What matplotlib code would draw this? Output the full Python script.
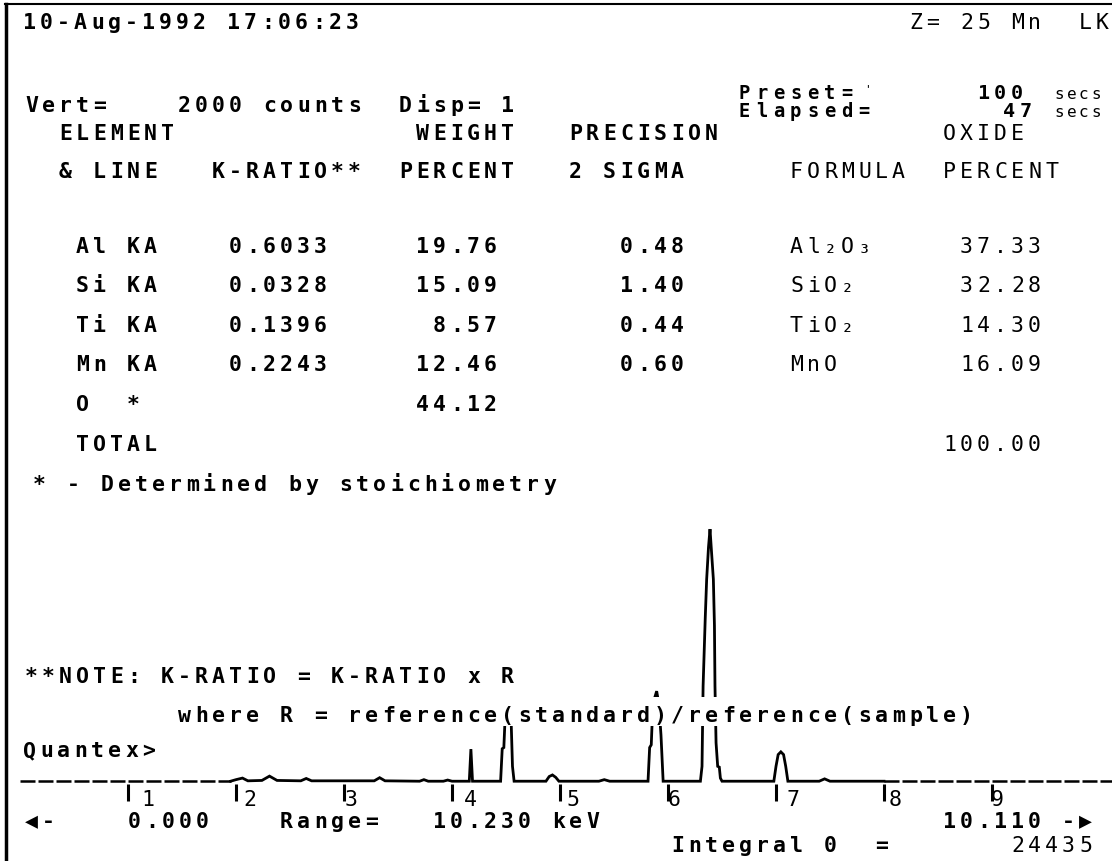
"""
Pantalla del analizador EDS (Quantex, 10-Aug-1992): tabla de cuantificación
arriba y el espectro de rayos X abajo, todo con look de terminal.
"""
import numpy as np
import matplotlib
matplotlib.use('Agg')
import matplotlib.pyplot as plt
from matplotlib.patches import Rectangle

# ─── Datos ───────────────────────────────────────────────────────────────────

energy_kev = np.array([
    0.00, 1.95, 2.00, 2.06, 2.11, 2.24, 2.31, 2.38, 2.60, 2.65, 2.70,
    3.28, 3.33, 3.38, 3.70, 3.74, 3.78, 3.92, 3.96, 4.00,
    4.16, 4.175, 4.19,
    4.45, 4.465, 4.48, 4.495, 4.52, 4.545, 4.56, 4.575,
    4.87, 4.90, 4.93, 4.96, 4.99, 5.36, 5.41, 5.46,
    5.815, 5.83, 5.845, 5.86, 5.895, 5.915, 5.935, 5.955,
    6.30, 6.315, 6.325, 6.345, 6.358, 6.375, 6.389, 6.40, 6.42, 6.43,
    6.435, 6.445, 6.46, 6.475, 6.485, 6.50,
    6.98, 7.00, 7.02, 7.045, 7.07, 7.09, 7.11, 7.40, 7.45, 7.50,
    8.00, 10.11,
])
counts = np.array([
    2, 2, 6, 10, 3, 4, 15, 4, 3, 9, 3,
    3, 11, 3, 2, 6, 2, 2, 5, 2,
    2, 84, 2,
    2, 85, 88, 185, 195, 180, 40, 2,
    2, 14, 18, 12, 2, 2, 6, 2,
    2, 88, 95, 200, 232, 200, 120, 2,
    2, 40, 245, 420, 518, 600, 646, 600, 518, 400,
    245, 100, 40, 38, 10, 2,
    2, 40, 70, 77, 70, 40, 2, 2, 8, 2,
    2, 2,
])
tick_kev = [1, 2, 3, 4, 5, 6, 7, 8, 9]

# Tabla de cuantificación (tal cual aparece en pantalla).
elements = ['Al KA', 'Si KA', 'Ti KA', 'Mn KA', 'O  *']
k_ratio = ['0.6033', '0.0328', '0.1396', '0.2243', '']
weight_pct = ['19.76', '15.09', ' 8.57', '12.46', '44.12']
precision = ['0.48', '1.40', '0.44', '0.60', '']
oxide_formula = ['Al₂O₃', 'SiO₂', 'TiO₂', 'MnO', '']
oxide_pct = ['37.33', '32.28', '14.30', '16.09', '']
total_pct = '100.00'

# ─── Layout de la pantalla (en píxeles) ──────────────────────────────────────

W, H = 1112, 862
PITCH = 17            # ancho de celda de carácter
X0 = 25               # columna 0
FS = 15.5
MONO = ['DejaVu Sans Mono', 'DejaVu Sans']

PX0, PX_KEV = 20, 108     # 0 keV en x=20, 108 px por keV
BASE_Y = 783              # línea base del espectro
FULL_SCALE = 2000         # "Vert= 2000 counts" llega hasta el borde de arriba
K = FULL_SCALE / BASE_Y   # cuentas por píxel


def col(c):
    return X0 + c * PITCH


fig = plt.figure(figsize=(W / 100, H / 100), dpi=100)
fig.patch.set_facecolor('white')

# Eje del espectro: x en keV, y en cuentas, alineado con la grilla de píxeles.
ax = fig.add_axes([0, 0, 1, 1])
ax.set_xlim(-PX0 / PX_KEV, (W - PX0) / PX_KEV)
ax.set_ylim(-(H - BASE_Y) * K, FULL_SCALE)
ax.axis('off')

# Eje de texto encima, en píxeles con origen arriba a la izquierda.
tx = fig.add_axes([0, 0, 1, 1], zorder=3)
tx.set_xlim(0, W)
tx.set_ylim(H, 0)
tx.patch.set_alpha(0)
tx.axis('off')


def crt(x, y, s, size=FS, weight='bold', pitch=PITCH):
    """Texto de terminal: cada carácter en su celda fija."""
    for i, ch in enumerate(s):
        if ch.strip():
            tx.text(x + i * pitch, y, ch, fontsize=size, fontweight=weight,
                    family=MONO, ha='left', va='baseline', color='black')


# ─── Espectro ────────────────────────────────────────────────────────────────

lo = energy_kev <= 1.95
mid = (energy_kev >= 1.95) & (energy_kev <= 8.0)
hi = energy_kev >= 8.0
ax.plot(energy_kev[mid], counts[mid], color='black', lw=2.0, solid_joinstyle='miter')
for m in (lo, hi):
    ax.plot(energy_kev[m], counts[m], color='black', lw=1.8, dashes=(6, 1.2))

# Marcas de keV debajo de la base, con su número en la celda siguiente.
ax.vlines(tick_kev, -19 * K, -2 * K, color='black', lw=2.2)
for e in tick_kev:
    px = PX0 + PX_KEV * e
    cell = np.ceil((px - X0) / PITCH)
    crt(col(cell) - 3, 806, str(e), weight='normal')

# ─── Marco ───────────────────────────────────────────────────────────────────

tx.plot([5, W], [5, 5], color='black', lw=1.5)
tx.plot([6, 6], [5, H], color='black', lw=2.5)

# ─── Cabecera ────────────────────────────────────────────────────────────────

crt(col(0) - 2, 29, '10-Aug-1992 17:06:23')
crt(col(52), 29, 'Z= 25 Mn  LK', weight='normal')
crt(col(42), 99, "Preset=", size=13.5)
crt(864, 92, "'", size=8, weight='normal')
crt(col(56), 99, '100', size=14.5)
crt(1054, 99, 'secs', size=11.5, weight='normal', pitch=12.5)
crt(col(0), 112, 'Vert=    2000 counts  Disp= 1')
crt(col(42), 117, 'Elapsed=', size=13.5)
crt(1003, 117, '47', size=14.5)
crt(1054, 117, 'secs', size=11.5, weight='normal', pitch=12.5)

crt(col(2), 140, 'ELEMENT')
crt(col(23), 140, 'WEIGHT')
crt(col(32), 140, 'PRECISION')
crt(col(54), 140, 'OXIDE', weight='normal')
crt(col(2), 178, '& LINE')
crt(col(11), 178, 'K-RATIO**')
crt(col(22), 178, 'PERCENT')
crt(col(32), 178, '2 SIGMA')
crt(col(45), 178, 'FORMULA', weight='normal')
crt(col(54), 178, 'PERCENT', weight='normal')

# ─── Filas de la tabla ───────────────────────────────────────────────────────

row_y = [253, 292, 332, 371, 411]
for i, y in enumerate(row_y):
    crt(col(3), y, elements[i])
    crt(col(12), y, k_ratio[i])
    crt(col(23), y, weight_pct[i])
    crt(col(35), y, precision[i])
    crt(col(45), y, oxide_formula[i], weight='normal')
    crt(col(55), y, oxide_pct[i], weight='normal')
crt(col(3), 451, 'TOTAL')
crt(col(54), 451, total_pct, weight='normal')
crt(33, 491, '* - Determined by stoichiometry')

# ─── Nota y prompt ───────────────────────────────────────────────────────────

note2 = 'where R = reference(standard)/reference(sample)'
crt(col(0), 683, '**NOTE: K-RATIO = K-RATIO x R')
# La fila de texto tapa el espectro donde hay caracteres.
tx.add_patch(Rectangle((col(9) - 2, 698), (len(note2) - 1) * PITCH + 16, 29,
                       facecolor='white', edgecolor='none', zorder=1))
crt(col(9), 722, note2)
crt(col(0) - 2, 757, 'Quantex>')

# ─── Pie ─────────────────────────────────────────────────────────────────────

crt(col(0), 828, '◀-')
crt(128, 828, '0.000')
crt(col(15), 828, 'Range=   10.230 keV')
crt(col(54), 828, '10.110 -▶')
crt(col(38), 852, 'Integral 0  =')
crt(col(58), 852, '24435', weight='normal')

fig.savefig('out.png', dpi=100, facecolor='white')
